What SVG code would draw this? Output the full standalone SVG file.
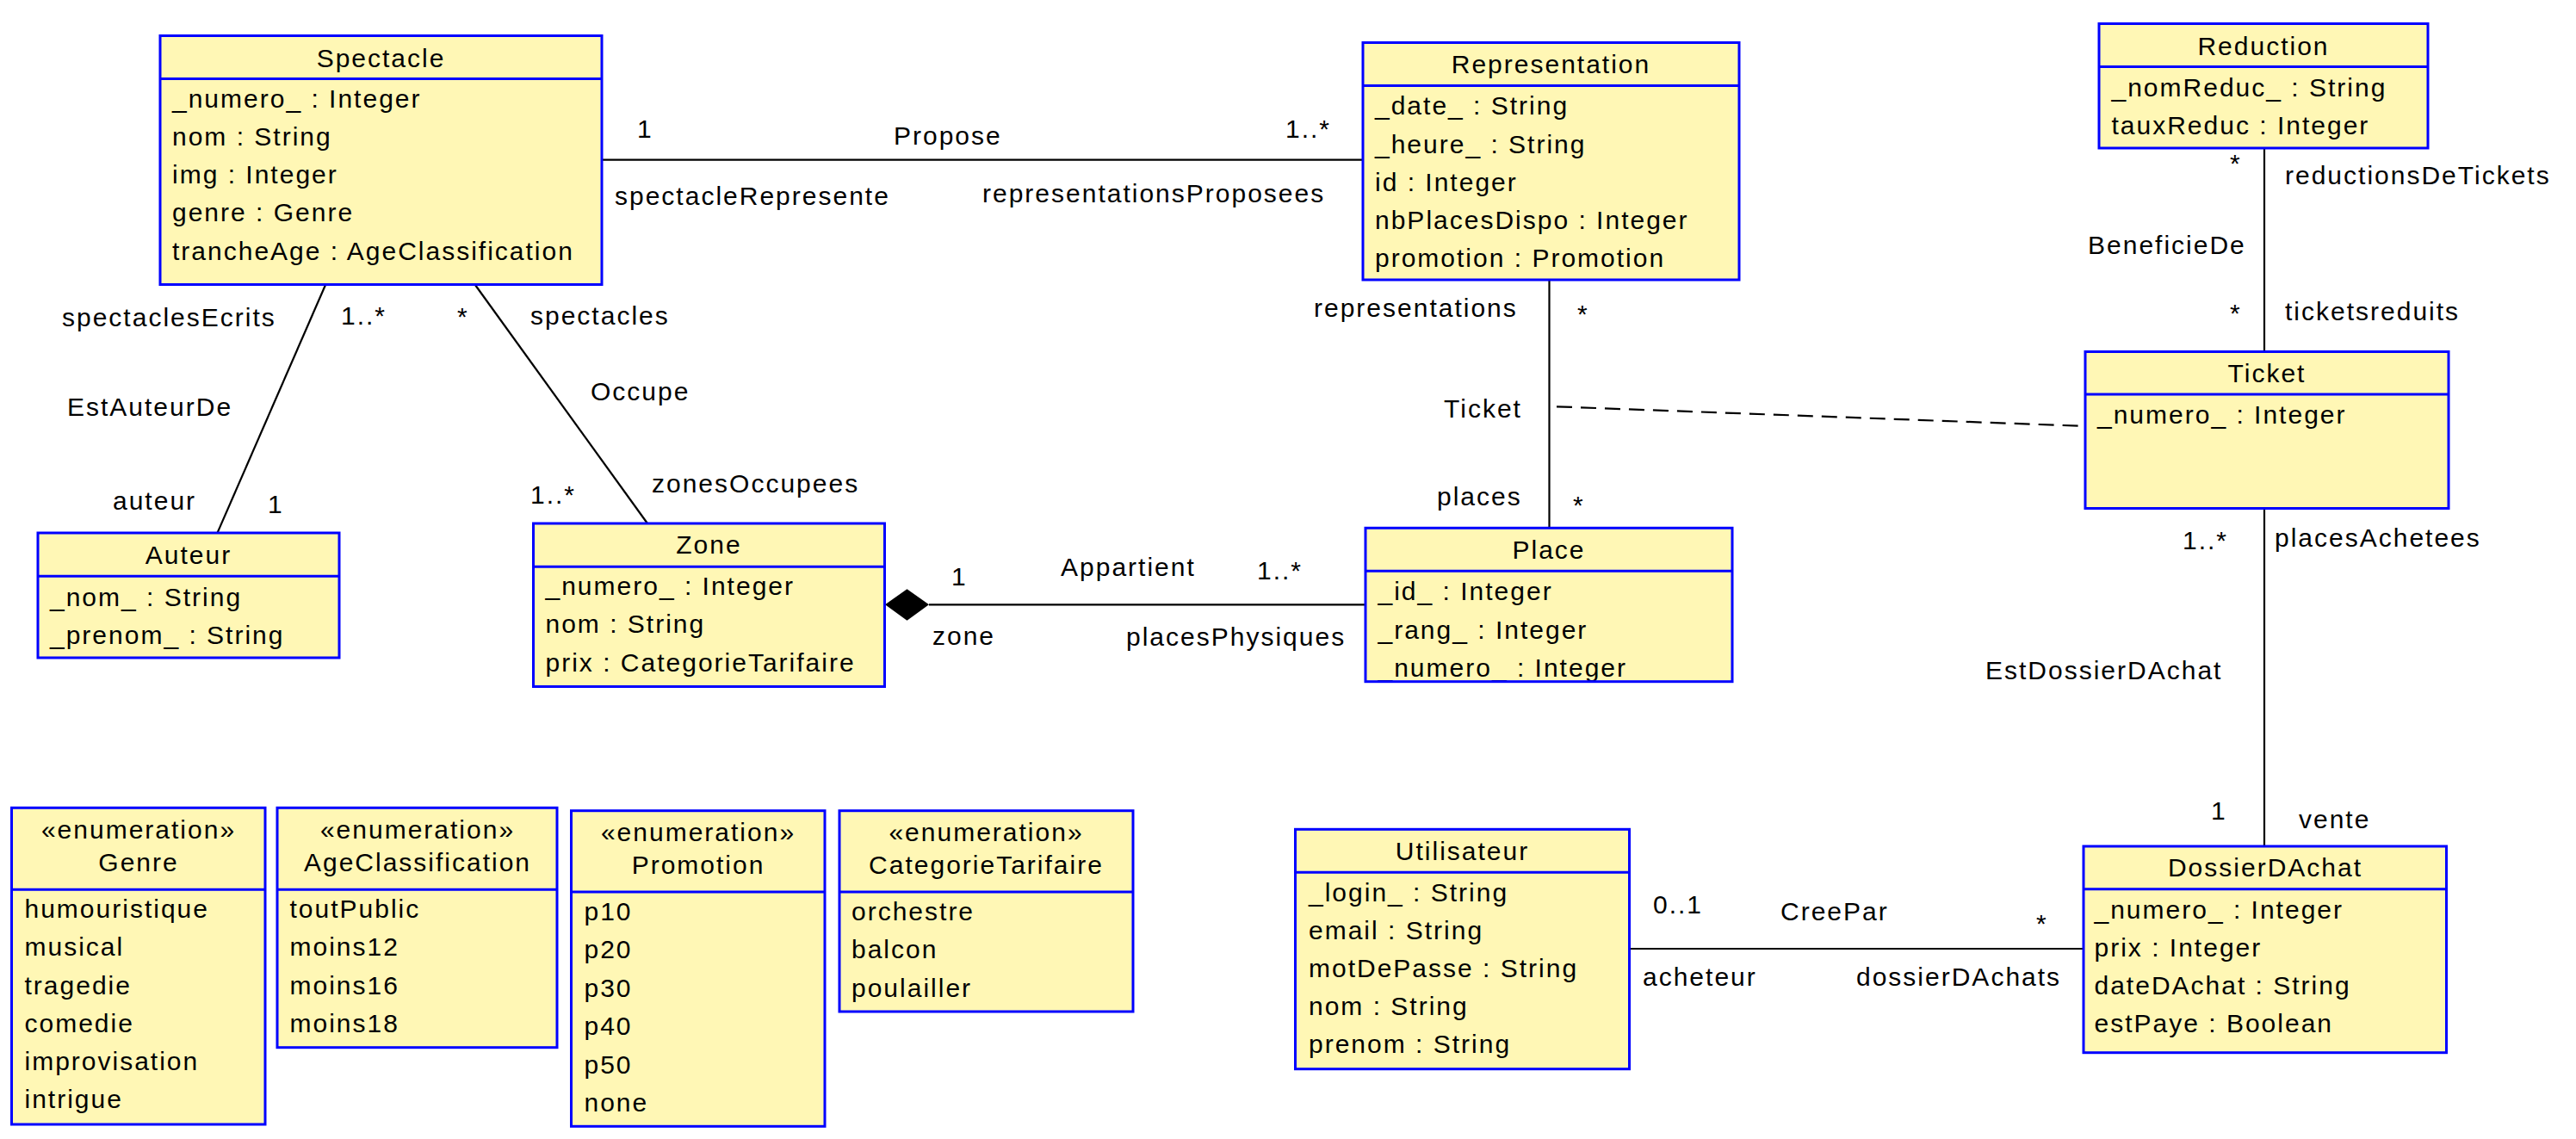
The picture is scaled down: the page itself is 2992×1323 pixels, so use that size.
<svg xmlns="http://www.w3.org/2000/svg" width="2992" height="1323" viewBox="0 0 2992 1323">
  <style>
    text { font-family: "Liberation Sans", Arial, Helvetica, sans-serif; font-size: 30px; letter-spacing: 2px; fill: #000; }
    .title { text-anchor: middle; }
    .bg { fill: #fff7b5; stroke: none; }
    .frame { fill: none; stroke: #0000ff; stroke-width: 3; }
    .sep { stroke: #0000ff; stroke-width: 3; }
    .assoc { fill: none; stroke: #000; stroke-width: 2.2; }
    .dash { fill: none; stroke: #000; stroke-width: 2.2; stroke-dasharray: 18 10; }
    .diamond { fill: #000; stroke: none; }
  </style>

  <rect width="2992" height="1323" fill="#ffffff"/>

  <!-- associations -->
  <g id="connectors">
    <!-- Propose -->
    <line class="assoc" x1="699" y1="185.7" x2="1583" y2="185.7"/>
    <text x="740" y="160">1</text>
    <text x="1038" y="168">Propose</text>
    <text x="1493" y="160">1..*</text>
    <text x="714" y="238">spectacleRepresente</text>
    <text x="1141" y="235">representationsProposees</text>

    <!-- EstAuteurDe -->
    <line class="assoc" x1="378" y1="331" x2="252.5" y2="619"/>
    <text x="72" y="379">spectaclesEcrits</text>
    <text x="396" y="377">1..*</text>
    <text x="78" y="483">EstAuteurDe</text>
    <text x="131" y="592">auteur</text>
    <text x="311" y="596">1</text>

    <!-- Occupe -->
    <line class="assoc" x1="552" y1="331" x2="752" y2="608"/>
    <text x="531" y="378">*</text>
    <text x="616" y="377">spectacles</text>
    <text x="686" y="465">Occupe</text>
    <text x="616" y="585">1..*</text>
    <text x="757" y="572">zonesOccupees</text>

    <!-- Appartient (composition) -->
    <line class="assoc" x1="1079" y1="702.3" x2="1586" y2="702.3"/>
    <polygon class="diamond" points="1028,702.3 1053.5,684.3 1079,702.3 1053.5,720.7"/>
    <text x="1105" y="680">1</text>
    <text x="1232" y="669">Appartient</text>
    <text x="1460" y="673">1..*</text>
    <text x="1083" y="749">zone</text>
    <text x="1308" y="750">placesPhysiques</text>

    <!-- Representation / Place, with class Ticket -->
    <line class="assoc" x1="1799.5" y1="325" x2="1799.5" y2="613"/>
    <text x="1526" y="368">representations</text>
    <text x="1832" y="375">*</text>
    <text x="1677" y="485">Ticket</text>
    <text x="1669" y="587">places</text>
    <text x="1827" y="597">*</text>
    <line class="dash" x1="1808" y1="472.3" x2="2422" y2="495"/>

    <!-- BeneficieDe -->
    <line class="assoc" x1="2630" y1="172" x2="2630" y2="408"/>
    <text x="2590" y="200">*</text>
    <text x="2654" y="213.5">reductionsDeTickets</text>
    <text x="2425" y="294.5">BeneficieDe</text>
    <text x="2590" y="374">*</text>
    <text x="2654" y="372">ticketsreduits</text>

    <!-- EstDossierDAchat -->
    <line class="assoc" x1="2630" y1="591" x2="2630" y2="983"/>
    <text x="2535" y="638">1..*</text>
    <text x="2642" y="635">placesAchetees</text>
    <text x="2306" y="789">EstDossierDAchat</text>
    <text x="2568" y="952">1</text>
    <text x="2670" y="962">vente</text>

    <!-- CreePar -->
    <line class="assoc" x1="1892" y1="1102" x2="2420" y2="1102"/>
    <text x="1920" y="1061">0..1</text>
    <text x="2068" y="1069">CreePar</text>
    <text x="2365" y="1083">*</text>
    <text x="1908" y="1145">acheteur</text>
    <text x="2156" y="1145">dossierDAchats</text>
  </g>

  <!-- classes -->
  <g id="Spectacle">
    <rect class="bg" x="186" y="41.5" width="513" height="289"/>
    <text class="title" x="442.5" y="77.5">Spectacle</text>
    <text x="200" y="125">_numero_ : Integer</text>
    <text x="200" y="169">nom : String</text>
    <text x="200" y="213">img : Integer</text>
    <text x="200" y="257">genre : Genre</text>
    <text x="200" y="301.5">trancheAge : AgeClassification</text>
    <rect class="frame" x="186" y="41.5" width="513" height="289"/>
    <line class="sep" x1="186" y1="91.5" x2="699" y2="91.5"/>
  </g>

  <g id="Representation">
    <rect class="bg" x="1583" y="49.5" width="437" height="275.5"/>
    <text class="title" x="1801.5" y="85">Representation</text>
    <text x="1597" y="133">_date_ : String</text>
    <text x="1597" y="177.5">_heure_ : String</text>
    <text x="1597" y="221.5">id : Integer</text>
    <text x="1597" y="266">nbPlacesDispo : Integer</text>
    <text x="1597" y="310">promotion : Promotion</text>
    <rect class="frame" x="1583" y="49.5" width="437" height="275.5"/>
    <line class="sep" x1="1583" y1="99.5" x2="2020" y2="99.5"/>
  </g>

  <g id="Reduction">
    <rect class="bg" x="2438" y="27.5" width="382" height="144.5"/>
    <text class="title" x="2629" y="64">Reduction</text>
    <text x="2452.5" y="112">_nomReduc_ : String</text>
    <text x="2452.5" y="155.5">tauxReduc : Integer</text>
    <rect class="frame" x="2438" y="27.5" width="382" height="144.5"/>
    <line class="sep" x1="2438" y1="77.5" x2="2820" y2="77.5"/>
  </g>

  <g id="Ticket">
    <rect class="bg" x="2422" y="408.5" width="422" height="182"/>
    <text class="title" x="2633" y="443.5">Ticket</text>
    <text x="2436" y="491.5">_numero_ : Integer</text>
    <rect class="frame" x="2422" y="408.5" width="422" height="182"/>
    <line class="sep" x1="2422" y1="458" x2="2844" y2="458"/>
  </g>

  <g id="Auteur">
    <rect class="bg" x="44" y="619" width="350" height="145"/>
    <text class="title" x="219" y="655">Auteur</text>
    <text x="58" y="703.5">_nom_ : String</text>
    <text x="58" y="747.5">_prenom_ : String</text>
    <rect class="frame" x="44" y="619" width="350" height="145"/>
    <line class="sep" x1="44" y1="669.3" x2="394" y2="669.3"/>
  </g>

  <g id="Zone">
    <rect class="bg" x="619.5" y="608" width="408" height="189.5"/>
    <text class="title" x="823.5" y="643">Zone</text>
    <text x="633.5" y="691">_numero_ : Integer</text>
    <text x="633.5" y="735">nom : String</text>
    <text x="633.5" y="779.5">prix : CategorieTarifaire</text>
    <rect class="frame" x="619.5" y="608" width="408" height="189.5"/>
    <line class="sep" x1="619.5" y1="658.3" x2="1027.5" y2="658.3"/>
  </g>

  <g id="Place">
    <rect class="bg" x="1586" y="613.3" width="426" height="178.4"/>
    <text class="title" x="1799" y="649.3">Place</text>
    <text x="1600.5" y="697">_id_ : Integer</text>
    <text x="1600.5" y="741.5">_rang_ : Integer</text>
    <text x="1600.5" y="785.5">_numero_ : Integer</text>
    <rect class="frame" x="1586" y="613.3" width="426" height="178.4"/>
    <line class="sep" x1="1586" y1="663.3" x2="2012" y2="663.3"/>
  </g>

  <g id="Utilisateur">
    <rect class="bg" x="1504.5" y="963.3" width="388" height="278.4"/>
    <text class="title" x="1698.5" y="999.3">Utilisateur</text>
    <text x="1520" y="1047">_login_ : String</text>
    <text x="1520" y="1091">email : String</text>
    <text x="1520" y="1135">motDePasse : String</text>
    <text x="1520" y="1179">nom : String</text>
    <text x="1520" y="1223">prenom : String</text>
    <rect class="frame" x="1504.5" y="963.3" width="388" height="278.4"/>
    <line class="sep" x1="1504.5" y1="1013.3" x2="1892.5" y2="1013.3"/>
  </g>

  <g id="DossierDAchat">
    <rect class="bg" x="2420" y="983" width="421.5" height="239.7"/>
    <text class="title" x="2631" y="1018.3">DossierDAchat</text>
    <text x="2432.5" y="1066.5">_numero_ : Integer</text>
    <text x="2432.5" y="1110.5">prix : Integer</text>
    <text x="2432.5" y="1154.5">dateDAchat : String</text>
    <text x="2432.5" y="1198.5">estPaye : Boolean</text>
    <rect class="frame" x="2420" y="983" width="421.5" height="239.7"/>
    <line class="sep" x1="2420" y1="1032.7" x2="2841.5" y2="1032.7"/>
  </g>

  <!-- enumerations -->
  <g id="Genre">
    <rect class="bg" x="13.5" y="938.3" width="294.5" height="367.7"/>
    <text class="title" x="161" y="974">«enumeration»</text>
    <text class="title" x="161" y="1011.7">Genre</text>
    <text x="28.5" y="1066">humouristique</text>
    <text x="28.5" y="1110">musical</text>
    <text x="28.5" y="1154.5">tragedie</text>
    <text x="28.5" y="1198.5">comedie</text>
    <text x="28.5" y="1243">improvisation</text>
    <text x="28.5" y="1287">intrigue</text>
    <rect class="frame" x="13.5" y="938.3" width="294.5" height="367.7"/>
    <line class="sep" x1="13.5" y1="1033.3" x2="308" y2="1033.3"/>
  </g>

  <g id="AgeClassification">
    <rect class="bg" x="322" y="938.3" width="325" height="278.4"/>
    <text class="title" x="485" y="974">«enumeration»</text>
    <text class="title" x="485" y="1011.7">AgeClassification</text>
    <text x="336.5" y="1066">toutPublic</text>
    <text x="336.5" y="1110">moins12</text>
    <text x="336.5" y="1154.5">moins16</text>
    <text x="336.5" y="1198.5">moins18</text>
    <rect class="frame" x="322" y="938.3" width="325" height="278.4"/>
    <line class="sep" x1="322" y1="1033.3" x2="647" y2="1033.3"/>
  </g>

  <g id="Promotion">
    <rect class="bg" x="663.5" y="941.7" width="294.5" height="366.6"/>
    <text class="title" x="811" y="976.7">«enumeration»</text>
    <text class="title" x="811" y="1015">Promotion</text>
    <text x="678.5" y="1068.5">p10</text>
    <text x="678.5" y="1113">p20</text>
    <text x="678.5" y="1157.5">p30</text>
    <text x="678.5" y="1202">p40</text>
    <text x="678.5" y="1246.5">p50</text>
    <text x="678.5" y="1290.5">none</text>
    <rect class="frame" x="663.5" y="941.7" width="294.5" height="366.6"/>
    <line class="sep" x1="663.5" y1="1036" x2="958" y2="1036"/>
  </g>

  <g id="CategorieTarifaire">
    <rect class="bg" x="975" y="941.7" width="341" height="233.3"/>
    <text class="title" x="1145.5" y="976.7">«enumeration»</text>
    <text class="title" x="1145.5" y="1015">CategorieTarifaire</text>
    <text x="989" y="1068.5">orchestre</text>
    <text x="989" y="1113">balcon</text>
    <text x="989" y="1157.5">poulailler</text>
    <rect class="frame" x="975" y="941.7" width="341" height="233.3"/>
    <line class="sep" x1="975" y1="1036" x2="1316" y2="1036"/>
  </g>
</svg>
